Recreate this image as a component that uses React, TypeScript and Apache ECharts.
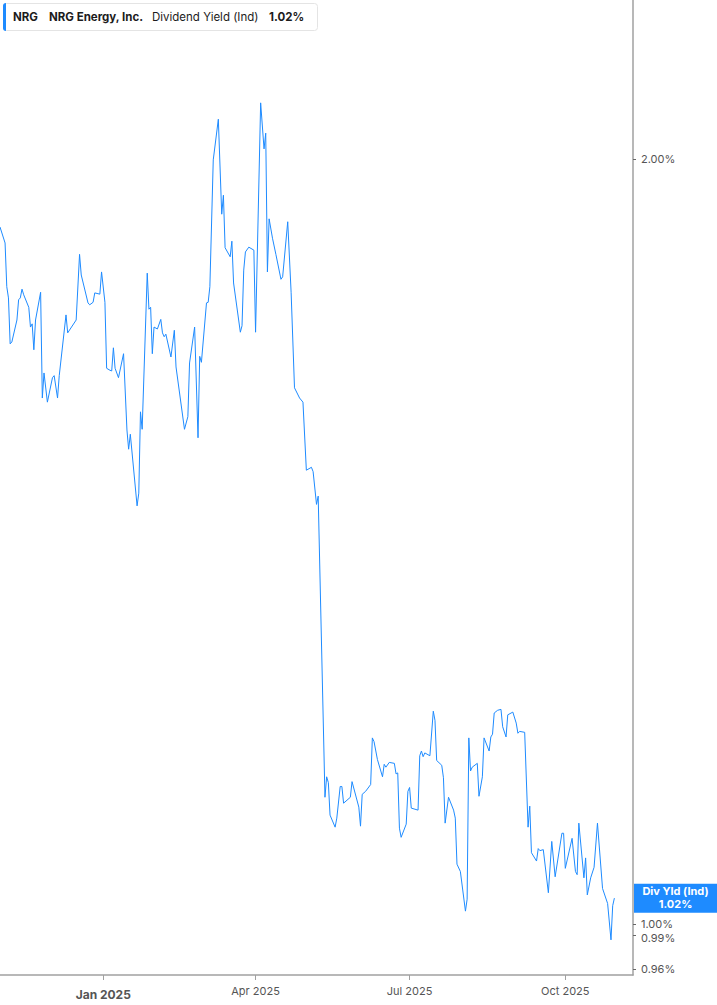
import { useEffect, useRef } from 'react';
import * as echarts from 'echarts';

// daily indicated dividend yield, %
const dates = [
  '2024-11-01', '2024-11-04', '2024-11-05', '2024-11-06', '2024-11-07', '2024-11-08', '2024-11-11', '2024-11-12',
  '2024-11-13', '2024-11-14', '2024-11-15', '2024-11-18', '2024-11-19', '2024-11-20', '2024-11-21', '2024-11-22',
  '2024-11-25', '2024-11-26', '2024-11-27', '2024-11-29', '2024-12-02', '2024-12-03', '2024-12-05', '2024-12-06',
  '2024-12-10', '2024-12-11', '2024-12-16', '2024-12-18', '2024-12-19', '2024-12-23', '2024-12-24', '2024-12-26',
  '2024-12-27', '2024-12-30', '2024-12-31', '2025-01-02', '2025-01-03', '2025-01-05', '2025-01-06', '2025-01-07',
  '2025-01-08', '2025-01-10', '2025-01-13', '2025-01-15', '2025-01-16', '2025-01-17', '2025-01-21', '2025-01-22',
  '2025-01-23', '2025-01-24', '2025-01-27', '2025-01-28', '2025-01-29', '2025-01-30', '2025-01-31', '2025-02-02',
  '2025-02-04', '2025-02-05', '2025-02-06', '2025-02-07', '2025-02-10', '2025-02-12', '2025-02-13', '2025-02-18',
  '2025-02-20', '2025-02-21', '2025-02-24', '2025-02-26', '2025-02-27', '2025-02-28', '2025-03-03', '2025-03-04',
  '2025-03-05', '2025-03-07', '2025-03-10', '2025-03-12', '2025-03-13', '2025-03-14', '2025-03-17', '2025-03-18',
  '2025-03-19', '2025-03-23', '2025-03-24', '2025-03-25', '2025-03-26', '2025-03-28', '2025-03-31', '2025-04-01',
  '2025-04-04', '2025-04-06', '2025-04-07', '2025-04-08', '2025-04-09', '2025-04-11', '2025-04-13', '2025-04-16',
  '2025-04-17', '2025-04-20', '2025-04-22', '2025-04-24', '2025-04-27', '2025-04-29', '2025-05-01', '2025-05-04',
  '2025-05-05', '2025-05-07', '2025-05-08', '2025-05-12', '2025-05-13', '2025-05-14', '2025-05-15', '2025-05-18',
  '2025-05-19', '2025-05-21', '2025-05-22', '2025-05-23', '2025-05-27', '2025-05-28', '2025-06-01', '2025-06-02',
  '2025-06-03', '2025-06-05', '2025-06-08', '2025-06-09', '2025-06-10', '2025-06-12', '2025-06-15', '2025-06-16',
  '2025-06-17', '2025-06-19', '2025-06-22', '2025-06-23', '2025-06-24', '2025-06-25', '2025-06-26', '2025-06-29',
  '2025-06-30', '2025-07-01', '2025-07-02', '2025-07-06', '2025-07-07', '2025-07-08', '2025-07-09', '2025-07-10',
  '2025-07-13', '2025-07-15', '2025-07-16', '2025-07-17', '2025-07-20', '2025-07-21', '2025-07-22', '2025-07-24',
  '2025-07-27', '2025-07-28', '2025-07-29', '2025-07-31', '2025-08-03', '2025-08-04', '2025-08-05', '2025-08-06',
  '2025-08-07', '2025-08-10', '2025-08-11', '2025-08-13', '2025-08-14', '2025-08-17', '2025-08-18', '2025-08-19',
  '2025-08-20', '2025-08-22', '2025-08-24', '2025-08-25', '2025-08-27', '2025-08-28', '2025-08-31', '2025-09-02',
  '2025-09-03', '2025-09-04', '2025-09-07', '2025-09-09', '2025-09-10', '2025-09-11', '2025-09-14', '2025-09-15',
  '2025-09-16', '2025-09-18', '2025-09-21', '2025-09-23', '2025-09-25', '2025-09-29', '2025-09-30', '2025-10-01',
  '2025-10-05', '2025-10-07', '2025-10-08', '2025-10-09', '2025-10-12', '2025-10-13', '2025-10-14', '2025-10-16',
  '2025-10-18', '2025-10-20', '2025-10-23', '2025-10-26', '2025-10-28', '2025-10-29', '2025-10-30',
];

const yields = [
  1.881, 1.854, 1.782, 1.764, 1.692, 1.695, 1.729, 1.761,
  1.764, 1.778, 1.769, 1.749, 1.718, 1.723, 1.683, 1.729,
  1.773, 1.611, 1.648, 1.605, 1.641, 1.644, 1.611, 1.644,
  1.737, 1.709, 1.729, 1.835, 1.801, 1.756, 1.753, 1.757,
  1.772, 1.770, 1.806, 1.757, 1.655, 1.652, 1.651, 1.686,
  1.655, 1.641, 1.677, 1.565, 1.538, 1.559, 1.461, 1.478,
  1.591, 1.566, 1.804, 1.746, 1.749, 1.677, 1.718, 1.715,
  1.730, 1.709, 1.703, 1.707, 1.672, 1.713, 1.657, 1.566,
  1.584, 1.663, 1.718, 1.554, 1.673, 1.664, 1.756, 1.757,
  1.782, 1.999, 2.074, 1.903, 1.936, 1.846, 1.831, 1.857,
  1.788, 1.710, 1.720, 1.809, 1.839, 1.847, 1.842, 1.710,
  2.105, 2.019, 2.048, 1.806, 1.895, 1.862, 1.835, 1.794,
  1.798, 1.890, 1.773, 1.626, 1.611, 1.605, 1.509, 1.513,
  1.507, 1.463, 1.474, 1.122, 1.143, 1.137, 1.104, 1.092,
  1.101, 1.133, 1.133, 1.116, 1.122, 1.138, 1.112, 1.093,
  1.125, 1.128, 1.135, 1.184, 1.180, 1.161, 1.143, 1.156,
  1.153, 1.158, 1.157, 1.146, 1.147, 1.091, 1.082, 1.095,
  1.128, 1.132, 1.111, 1.109, 1.165, 1.170, 1.164, 1.168,
  1.165, 1.213, 1.203, 1.160, 1.155, 1.142, 1.096, 1.122,
  1.109, 1.101, 1.056, 1.049, 1.012, 1.023, 1.184, 1.149,
  1.153, 1.157, 1.123, 1.143, 1.184, 1.170, 1.185, 1.188,
  1.211, 1.214, 1.215, 1.196, 1.185, 1.209, 1.212, 1.200,
  1.189, 1.191, 1.190, 1.092, 1.113, 1.067, 1.059, 1.071,
  1.069, 1.070, 1.029, 1.078, 1.044, 1.086, 1.086, 1.052,
  1.081, 1.049, 1.046, 1.096, 1.043, 1.062, 1.027, 1.043,
  1.053, 1.096, 1.033, 1.019, 0.986, 1.017, 1.024,
];

const yTickValues = [0.96, 0.99, 1.0, 2.0];
const xTickDates = ['2025-01-01', '2025-04-01', '2025-07-01', '2025-10-01'];
const xRange = ['2024-11-01', '2025-11-10'];
const monthNames = ['Jan', 'Feb', 'Mar', 'Apr', 'May', 'Jun', 'Jul', 'Aug', 'Sep', 'Oct', 'Nov', 'Dec'];

const ticker = 'NRG';
const company = 'NRG Energy, Inc.';
const metric = 'Dividend Yield (Ind)';
const tagName = 'Div Yld (Ind)';

const BLUE = '#1e8bff';
const FONT = 'Inter, "Noto Sans", sans-serif';

const ts = (d: string) => Date.parse(d + 'T00:00:00Z');

function headerText(x: number, text: string, bold: boolean) {
  return {
    type: 'text',
    z: 12,
    x,
    y: 17,
    style: {
      text,
      fill: '#1c1c1c',
      fontFamily: FONT,
      fontSize: 11.5,
      fontWeight: bold ? 'bold' : 'normal',
      verticalAlign: 'middle',
    },
  };
}

export default function App() {
  const chartRef = useRef<HTMLDivElement>(null);

  useEffect(() => {
    if (!chartRef.current) return;
    const chart = echarts.init(chartRef.current, undefined, { renderer: 'svg' });

    const last = yields[yields.length - 1];
    const lastText = last.toFixed(2) + '%';
    const xTicks = xTickDates.map(ts);

    const header = [
      {
        type: 'rect',
        z: 10,
        shape: { x: 3.5, y: 3.5, width: 314, height: 27, r: 3 },
        style: { fill: '#fff', stroke: '#e4e4e4', lineWidth: 1 },
      },
      {
        type: 'rect',
        z: 11,
        shape: { x: 3, y: 3, width: 3, height: 28, r: [3, 0, 0, 3] },
        style: { fill: BLUE },
      },
      headerText(13, ticker, true),
      headerText(49, company, true),
      headerText(152, metric, false),
      headerText(269, lastText, true),
    ];

    chart.setOption({
      animation: false,
      backgroundColor: '#ffffff',
      textStyle: { fontFamily: FONT },
      grid: { left: 0, right: 84, top: 0, bottom: 30 },
      xAxis: {
        type: 'value',
        min: ts(xRange[0]),
        max: ts(xRange[1]),
        axisLine: { show: true, onZero: false, lineStyle: { color: '#a0a0a0', width: 1.5 } },
        axisTick: { show: true, customValues: xTicks, length: 5, lineStyle: { color: '#a0a0a0' } },
        axisLabel: {
          customValues: xTicks,
          color: '#555',
          fontSize: 11,
          margin: 10,
          formatter: (v: number) => {
            const d = new Date(v);
            const s = `${monthNames[d.getUTCMonth()]} ${d.getUTCFullYear()}`;
            return d.getUTCMonth() === 0 ? `{y|${s}}` : s;
          },
          rich: {
            y: { fontFamily: FONT, fontWeight: 'bold', fontSize: 12, color: '#555', padding: [3, 0, 0, 0] },
          },
        },
        splitLine: { show: false },
      },
      yAxis: {
        type: 'log',
        position: 'right',
        min: 0.9551,
        max: 2.3106,
        axisLine: { show: true, lineStyle: { color: '#a0a0a0', width: 1.5 } },
        axisTick: { show: true, customValues: yTickValues, length: 3, lineStyle: { color: '#666' } },
        axisLabel: {
          customValues: yTickValues,
          color: '#555',
          fontSize: 11,
          lineHeight: 11,
          margin: 8,
          // the two labels near 1% sit close together: nudge them apart
          formatter: (v: number) => {
            const s = v.toFixed(2) + '%';
            if (Math.abs(v - 0.99) < 1e-6) return `{lo|${s}}`;
            if (Math.abs(v - 1) < 1e-6) return `{hi|${s}}`;
            return s;
          },
          rich: {
            lo: { fontFamily: FONT, fontSize: 11, color: '#555', padding: [5, 0, 0, 0] },
            hi: { fontFamily: FONT, fontSize: 11, color: '#555', padding: [0, 0, 1, 0] },
          },
        },
        splitLine: { show: false },
      },
      graphic: header,
      series: [
        {
          type: 'line',
          data: dates.map((d, i) => [ts(d), yields[i]]),
          showSymbol: false,
          lineStyle: { color: BLUE, width: 1 },
          itemStyle: { color: BLUE },
        },
      ],
    });

    // last-value tag on the right axis, placed through the y scale
    const yLast = chart.convertToPixel({ yAxisIndex: 0 }, last) as number;
    const xAxisEdge = chart.getWidth() - 83;
    chart.setOption({
      graphic: [
        ...header,
        {
          type: 'rect',
          z: 12,
          shape: { x: xAxisEdge, y: yLast - 14.5, width: 83, height: 29 },
          style: { fill: BLUE },
        },
        {
          type: 'text',
          z: 13,
          x: xAxisEdge + 41.5,
          y: yLast - 7,
          style: { text: tagName, fill: '#fff', fontFamily: FONT, fontSize: 11, fontWeight: 'bold', align: 'center', verticalAlign: 'middle' },
        },
        {
          type: 'text',
          z: 13,
          x: xAxisEdge + 41.5,
          y: yLast + 6,
          style: { text: lastText, fill: '#fff', fontFamily: FONT, fontSize: 11, fontWeight: 'bold', align: 'center', verticalAlign: 'middle' },
        },
      ],
    });

    return () => {
      chart.dispose();
    };
  }, []);

  return (
    <div
      ref={chartRef}
      style={{ position: 'fixed', left: 0, top: 0, width: 717, height: 1005, background: '#fff' }}
    />
  );
}
